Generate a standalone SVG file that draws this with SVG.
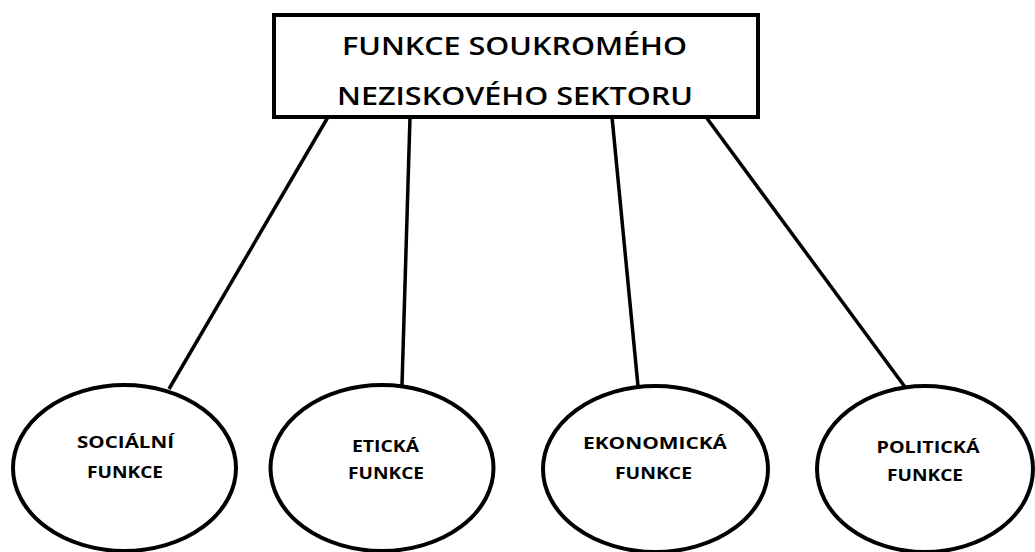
<svg xmlns="http://www.w3.org/2000/svg" width="1035" height="552" viewBox="0 0 1035 552">
<style>
.box{fill:#fff;stroke:#000;stroke-width:4}
.ell{fill:#fff;stroke:#000;stroke-width:4}
.conn line{stroke:#000;stroke-width:3.5;stroke-linecap:butt}
.title{font-family:"Open Sans","Noto Sans","DejaVu Sans",sans-serif;font-size:25.5px;font-weight:600;fill:#000;text-anchor:middle}
.lbl{font-family:"Open Sans","Noto Sans","DejaVu Sans",sans-serif;font-size:16.5px;font-weight:bold;fill:#000;text-anchor:middle}
</style>
<rect width="1035" height="552" fill="#fff"/>
<g id="connectors" class="conn">
<line x1="328" y1="117" x2="169" y2="389"/>
<line x1="410" y1="117" x2="402" y2="385"/>
<line x1="612" y1="117" x2="638" y2="386"/>
<line x1="706" y1="117" x2="905" y2="387"/>
</g>
<g id="root">
<rect class="box" x="274" y="15" width="484" height="102"/>
<text class="title" x="514.5" y="55" textLength="345" lengthAdjust="spacingAndGlyphs">FUNKCE SOUKROMÉHO</text>
<text class="title" x="515" y="105" textLength="356" lengthAdjust="spacingAndGlyphs">NEZISKOVÉHO SEKTORU</text>
</g>
<g id="socialni">
<ellipse class="ell" cx="124.5" cy="468" rx="111.5" ry="83"/>
<text class="lbl" x="125.5" y="448" textLength="97" lengthAdjust="spacingAndGlyphs">SOCIÁLNÍ</text>
<text class="lbl" x="125" y="478" textLength="76" lengthAdjust="spacingAndGlyphs">FUNKCE</text>
</g>
<g id="eticka">
<ellipse class="ell" cx="382" cy="468" rx="111.5" ry="83"/>
<text class="lbl" x="385.5" y="452" textLength="67" lengthAdjust="spacingAndGlyphs">ETICKÁ</text>
<text class="lbl" x="386" y="479" textLength="76" lengthAdjust="spacingAndGlyphs">FUNKCE</text>
</g>
<g id="ekonomicka">
<ellipse class="ell" cx="655.5" cy="469" rx="112.5" ry="83"/>
<text class="lbl" x="655" y="449" textLength="144" lengthAdjust="spacingAndGlyphs">EKONOMICKÁ</text>
<text class="lbl" x="653.5" y="479" textLength="77" lengthAdjust="spacingAndGlyphs">FUNKCE</text>
</g>
<g id="politicka">
<ellipse class="ell" cx="925" cy="469" rx="108" ry="83"/>
<text class="lbl" x="928" y="453" textLength="103" lengthAdjust="spacingAndGlyphs">POLITICKÁ</text>
<text class="lbl" x="925" y="481" textLength="76" lengthAdjust="spacingAndGlyphs">FUNKCE</text>
</g>
</svg>
